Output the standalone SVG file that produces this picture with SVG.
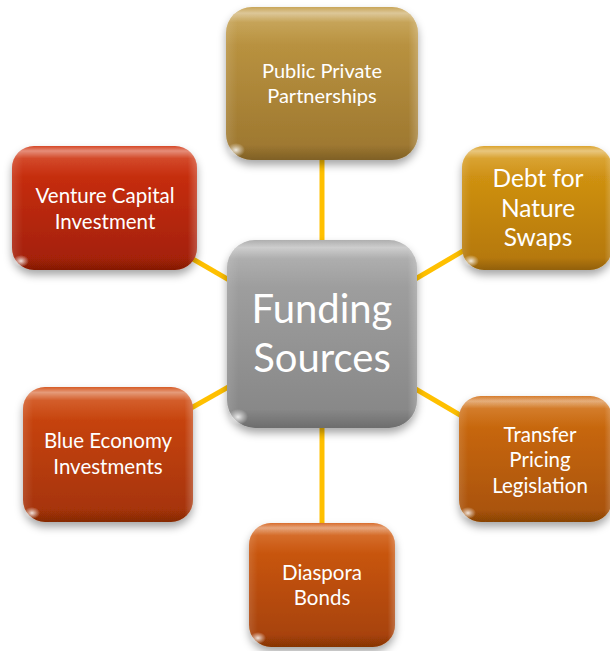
<svg xmlns="http://www.w3.org/2000/svg" width="610" height="651" viewBox="0 0 610 651">
<defs>
<style>
.lbl{font-family:Lato,"Open Sans","Noto Sans",sans-serif;fill:#fff;text-anchor:middle}
.conn{stroke:#FFC000;stroke-width:5;fill:none}
.gloss{fill:url(#gloss)}
.side{fill:url(#side)}
.spot{fill:url(#spot)}
</style>
<filter id="sh" x="-20%" y="-20%" width="140%" height="150%">
<feDropShadow dx="0" dy="5" stdDeviation="4" flood-color="#000" flood-opacity="0.35"/>
</filter>
<linearGradient id="gloss" x1="0" y1="0" x2="0" y2="1">
<stop offset="0" stop-color="#fff" stop-opacity="0.1"/>
<stop offset="0.04" stop-color="#fff" stop-opacity="0.45"/>
<stop offset="0.1" stop-color="#fff" stop-opacity="0.12"/>
<stop offset="0.25" stop-color="#fff" stop-opacity="0"/>
<stop offset="0.9" stop-color="#000" stop-opacity="0"/>
<stop offset="1" stop-color="#000" stop-opacity="0.18"/>
</linearGradient>
<linearGradient id="side" x1="0" y1="0" x2="1" y2="0">
<stop offset="0" stop-color="#fff" stop-opacity="0.12"/>
<stop offset="0.06" stop-color="#fff" stop-opacity="0"/>
<stop offset="0.95" stop-color="#fff" stop-opacity="0"/>
<stop offset="1" stop-color="#fff" stop-opacity="0.22"/>
</linearGradient>
<radialGradient id="spot">
<stop offset="0" stop-color="#fff" stop-opacity="0.85"/>
<stop offset="0.5" stop-color="#fff" stop-opacity="0.4"/>
<stop offset="1" stop-color="#fff" stop-opacity="0"/>
</radialGradient>
<linearGradient id="gCenter" x1="0" y1="0" x2="0" y2="1"><stop offset="0" stop-color="#A6A6A6"/><stop offset="1" stop-color="#858585"/></linearGradient>
<linearGradient id="gTop" x1="0" y1="0" x2="0" y2="1"><stop offset="0" stop-color="#C29B45"/><stop offset="1" stop-color="#9B752E"/></linearGradient>
<linearGradient id="gDebt" x1="0" y1="0" x2="0" y2="1"><stop offset="0" stop-color="#D89A15"/><stop offset="1" stop-color="#B27508"/></linearGradient>
<linearGradient id="gVent" x1="0" y1="0" x2="0" y2="1"><stop offset="0" stop-color="#D2320E"/><stop offset="1" stop-color="#A01F06"/></linearGradient>
<linearGradient id="gBlue" x1="0" y1="0" x2="0" y2="1"><stop offset="0" stop-color="#D2490F"/><stop offset="1" stop-color="#A23206"/></linearGradient>
<linearGradient id="gTrans" x1="0" y1="0" x2="0" y2="1"><stop offset="0" stop-color="#D26E12"/><stop offset="1" stop-color="#A65106"/></linearGradient>
<linearGradient id="gDias" x1="0" y1="0" x2="0" y2="1"><stop offset="0" stop-color="#D45C12"/><stop offset="1" stop-color="#A34006"/></linearGradient>
</defs>
<rect width="610" height="651" fill="#fff"/>
<g id="connectors">
<line class="conn" x1="322" y1="334" x2="322" y2="83"/>
<line class="conn" x1="322" y1="334" x2="322" y2="585"/>
<line class="conn" x1="322" y1="334" x2="105" y2="208"/>
<line class="conn" x1="322" y1="334" x2="536" y2="208"/>
<line class="conn" x1="322" y1="334" x2="108" y2="455"/>
<line class="conn" x1="322" y1="334" x2="535" y2="459"/>
</g>
<g id="node-ppp">
<rect x="226" y="7" width="192" height="153" rx="26" fill="url(#gTop)" filter="url(#sh)"/>
<rect x="226" y="7" width="192" height="153" rx="26" class="gloss"/>
<rect x="226" y="7" width="192" height="153" rx="26" class="side"/>
<ellipse cx="236" cy="150" rx="9" ry="7" class="spot"/>
<text class="lbl" font-size="20" x="322" y="78">Public Private</text>
<text class="lbl" font-size="20" x="322" y="103">Partnerships</text>
</g>
<g id="node-debt">
<rect x="462" y="146" width="150" height="124" rx="22" fill="url(#gDebt)" filter="url(#sh)"/>
<rect x="462" y="146" width="150" height="124" rx="22" class="gloss"/>
<rect x="462" y="146" width="150" height="124" rx="22" class="side"/>
<ellipse cx="471" cy="261" rx="8" ry="6" class="spot"/>
<text class="lbl" font-size="24.5" x="538" y="187">Debt for</text>
<text class="lbl" font-size="24.5" x="538" y="217">Nature</text>
<text class="lbl" font-size="24.5" x="538" y="246">Swaps</text>
</g>
<g id="node-venture">
<rect x="12" y="146" width="185" height="124" rx="22" fill="url(#gVent)" filter="url(#sh)"/>
<rect x="12" y="146" width="185" height="124" rx="22" class="gloss"/>
<rect x="12" y="146" width="185" height="124" rx="22" class="side"/>
<ellipse cx="21" cy="261" rx="8" ry="6" class="spot"/>
<text class="lbl" font-size="20.5" x="105" y="203">Venture Capital</text>
<text class="lbl" font-size="20.5" x="105" y="229">Investment</text>
</g>
<g id="node-blue">
<rect x="23" y="387" width="170" height="135" rx="22" fill="url(#gBlue)" filter="url(#sh)"/>
<rect x="23" y="387" width="170" height="135" rx="22" class="gloss"/>
<rect x="23" y="387" width="170" height="135" rx="22" class="side"/>
<ellipse cx="32" cy="513" rx="8" ry="6" class="spot"/>
<text class="lbl" font-size="20.5" x="108" y="448">Blue Economy</text>
<text class="lbl" font-size="20.5" x="108" y="474">Investments</text>
</g>
<g id="node-transfer">
<rect x="459" y="396" width="153" height="126" rx="22" fill="url(#gTrans)" filter="url(#sh)"/>
<rect x="459" y="396" width="153" height="126" rx="22" class="gloss"/>
<rect x="459" y="396" width="153" height="126" rx="22" class="side"/>
<ellipse cx="468" cy="513" rx="8" ry="6" class="spot"/>
<text class="lbl" font-size="20.5" x="540" y="442">Transfer</text>
<text class="lbl" font-size="20.5" x="540" y="467">Pricing</text>
<text class="lbl" font-size="20.5" x="540" y="493">Legislation</text>
</g>
<g id="node-diaspora">
<rect x="249" y="523" width="146" height="124" rx="22" fill="url(#gDias)" filter="url(#sh)"/>
<rect x="249" y="523" width="146" height="124" rx="22" class="gloss"/>
<rect x="249" y="523" width="146" height="124" rx="22" class="side"/>
<ellipse cx="258" cy="638" rx="8" ry="6" class="spot"/>
<text class="lbl" font-size="20.5" x="322" y="580">Diaspora</text>
<text class="lbl" font-size="20.5" x="322" y="605">Bonds</text>
</g>
<g id="node-center">
<rect x="227" y="240" width="190" height="188" rx="28" fill="url(#gCenter)" filter="url(#sh)"/>
<rect x="227" y="240" width="190" height="188" rx="28" class="gloss"/>
<rect x="227" y="240" width="190" height="188" rx="28" class="side"/>
<ellipse cx="238" cy="417" rx="10" ry="8" class="spot"/>
<text class="lbl" font-size="40" x="322" y="323">Funding</text>
<text class="lbl" font-size="40" x="322" y="372">Sources</text>
</g>
</svg>
